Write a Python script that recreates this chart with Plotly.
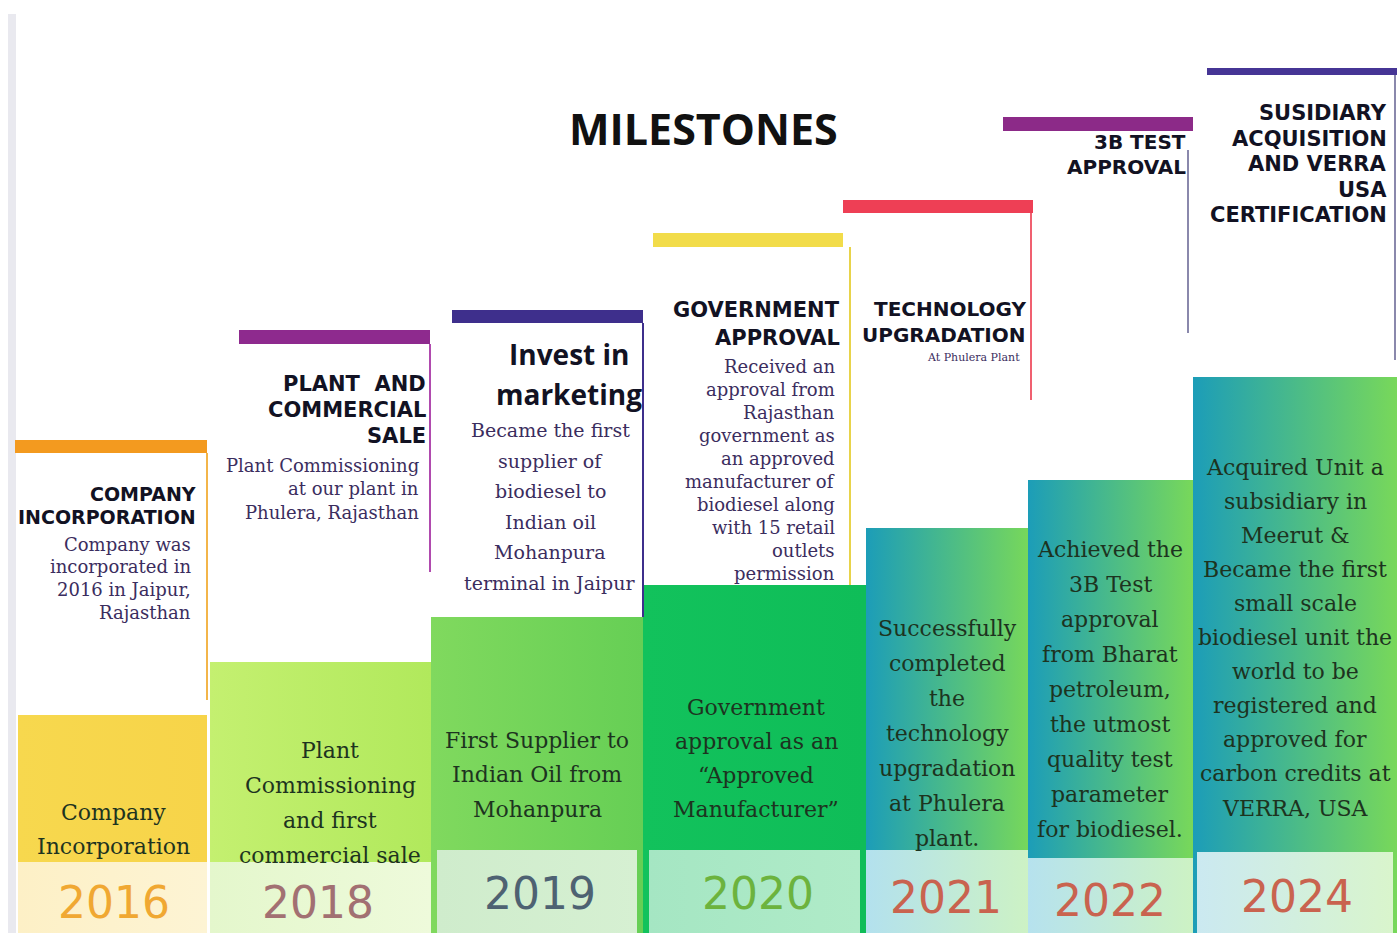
import plotly.graph_objects as go

# ---------------- DATA ----------------
years = ["2016", "2018", "2019", "2020", "2021", "2022", "2024"]

headings = [
    ["COMPANY", "INCORPORATION"],
    ["PLANT  AND", "COMMERCIAL", "SALE"],
    ["Invest in", "marketing"],
    ["GOVERNMENT", "APPROVAL"],
    ["TECHNOLOGY", "UPGRADATION"],
    ["3B TEST", "APPROVAL"],
    ["SUSIDIARY", "ACQUISITION", "AND VERRA", "USA", "CERTIFICATION"],
]

descriptions = [
    ["Company was", "incorporated in", "2016 in Jaipur,", "Rajasthan"],
    ["Plant Commissioning", "at our plant in", "Phulera, Rajasthan"],
    ["Became the first", "supplier of", "biodiesel to", "Indian oil", "Mohanpura", "terminal in Jaipur"],
    ["Received an", "approval from", "Rajasthan", "government as", "an approved",
     "manufacturer of", "biodiesel along", "with 15 retail", "outlets", "permission"],
    ["At Phulera Plant"],
    [],
    [],
]

block_texts = [
    ["Company", "Incorporation"],
    ["Plant", "Commissioning", "and first", "commercial sale"],
    ["First Supplier to", "Indian Oil from", "Mohanpura"],
    ["Government", "approval as an", "\u201cApproved", "Manufacturer\u201d"],
    ["Successfully", "completed", "the", "technology", "upgradation", "at Phulera", "plant."],
    ["Achieved the", "3B Test", "approval", "from Bharat", "petroleum,", "the utmost",
     "quality test", "parameter", "for biodiesel."],
    ["Acquired Unit a", "subsidiary in", "Meerut &", "Became the first", "small scale",
     "biodiesel unit the", "world to be", "registered and", "approved for",
     "carbon credits at", "VERRA, USA"],
]

title = "MILESTONES"

# ---------------- GEOMETRY / STYLE ----------------
W, H = 1400, 933

block_x0 = [18, 210, 431, 643, 866, 1028, 1193]
block_x1 = [207, 431, 643, 866, 1030, 1193, 1397]
block_top = [715, 662, 617, 585, 528, 480, 377]
band_top = [862, 862, 850, 850, 850, 858, 852]
band_inset = [0, 0, 6, 6, 0, 0, 4]
block_colors = [
    ["#f7d84e", "#f7d449"],
    ["#c4f070", "#b1e95c"],
    ["#80d95e", "#66cf55"],
    ["#12c25c", "#0fbd58"],
    ["#1c9db8", "#78d85a"],
    ["#1c9db8", "#78d85a"],
    ["#1c9db8", "#78d85a"],
]
band_colors = [
    ["#fdf0c6", "#fdf4d4"],
    ["#e4f7cc", "#eefadb"],
    ["#cfeccc", "#d6f0d2"],
    ["#a5e6c3", "#b0ebc8"],
    ["#b3e1ee", "#cdf2c4"],
    ["#b6e2ee", "#cdf2c4"],
    ["#cbe9f1", "#d9f5cc"],
]
year_colors = ["#f0a832", "#a27072", "#4e6272", "#6cb33e", "#c9634f", "#c9634f", "#c9634f"]

bar_x0 = [15, 239, 452, 653, 843, 1003, 1207]
bar_x1 = [207, 430, 643, 843, 1033, 1193, 1397]
bar_y0 = [440, 330, 310, 233, 200, 117, 68]
bar_y1 = [453, 344, 323, 247, 213, 131, 75]
bar_colors = ["#f39a1f", "#8e2a8e", "#3e2f8c", "#f2dc4a", "#ee3f55", "#8c2a88", "#463595"]

edge_x = [207, 430, 643, 850, 1031, 1188, 1395]
edge_y0 = [453, 344, 323, 247, 213, 150, 75]
edge_y1 = [700, 572, 617, 585, 400, 333, 360]
edge_colors = ["#f3b54a", "#b04aae", "#3e2f8c", "#e8d34a", "#f06070", "#8a88ac", "#8a88ac"]

head_x = [198, 428, 569, 842, 1028, 1188, 1389]
head_anchor = ["right", "right", "center", "right", "right", "right", "right"]
head_y0 = [494, 384, 354, 310, 309, 142, 113]
head_dy = [23, 26, 40, 28, 26, 25, 25.5]
head_size = [19, 21, 28, 21, 20, 20, 21]
head_font = ["DejaVu Sans", "DejaVu Sans", "Open Sans", "DejaVu Sans", "DejaVu Sans", "DejaVu Sans", "DejaVu Sans"]

desc_x = [193, 421, 550, 837, 1022, 0, 0]
desc_anchor = ["right", "right", "center", "right", "right", "right", "right"]
desc_y0 = [544, 465, 430, 366, 357, 0, 0]
desc_dy = [22.7, 23.5, 30.6, 23, 0, 0, 0]
desc_size = [18, 18, 19, 18, 11, 0, 0]

blk_x = [113, 330, 537, 756, 947, 1110, 1295]
blk_y0 = [812, 750, 740, 707, 628, 549, 467]
blk_dy = [34, 35.3, 34.5, 34.3, 35, 35, 34.1]
blk_size = 22

year_x = [114, 318, 540, 758, 946, 1110, 1297]
year_y = [902, 902, 893, 893, 897, 900, 896]

# ---------------- FIGURE ----------------
fig = go.Figure()


def rect(x0, x1, y0, y1):
    return [x0, x1, x1, x0, x0], [y0, y0, y1, y1, y0]


def grad(c):
    return dict(type="horizontal", colorscale=[[0, c[0]], [1, c[1]]])


# left scan edge
xs, ys = rect(8, 16, 14, H)
fig.add_trace(go.Scatter(x=xs, y=ys, fill="toself", fillcolor="#e9e9ef",
                         line=dict(width=0), mode="lines", hoverinfo="skip"))

for i in range(len(years)):
    # coloured block (runs to the bottom, year band is laid over it)
    xs, ys = rect(block_x0[i], block_x1[i], block_top[i], H)
    fig.add_trace(go.Scatter(x=xs, y=ys, fill="toself", mode="lines", line=dict(width=0),
                             hoverinfo="skip", fillgradient=grad(block_colors[i])))
    ins = band_inset[i]
    xs, ys = rect(block_x0[i] + ins, block_x1[i] - ins, band_top[i], H)
    fig.add_trace(go.Scatter(x=xs, y=ys, fill="toself", mode="lines", line=dict(width=0),
                             hoverinfo="skip", fillgradient=grad(band_colors[i])))

shapes = []
for i in range(len(years)):
    shapes.append(dict(type="rect", xref="x", yref="y", x0=bar_x0[i], x1=bar_x1[i],
                       y0=bar_y0[i], y1=bar_y1[i], fillcolor=bar_colors[i], line=dict(width=0)))
    shapes.append(dict(type="line", xref="x", yref="y", x0=edge_x[i], x1=edge_x[i],
                       y0=edge_y0[i], y1=edge_y1[i], line=dict(color=edge_colors[i], width=2)))

ann = []
ann.append(dict(x=703, y=128, xref="x", yref="y", text="<b>" + title + "</b>", showarrow=False,
                xanchor="center", yanchor="middle",
                font=dict(family="Open Sans", size=43, color="#111111")))

for i in range(len(years)):
    for j, line in enumerate(headings[i]):
        ann.append(dict(x=head_x[i], y=head_y0[i] + j * head_dy[i], xref="x", yref="y",
                        text="<b>" + line + "</b>", showarrow=False,
                        xanchor=head_anchor[i], yanchor="middle",
                        font=dict(family=head_font[i], size=head_size[i], color="#121223")))
    for j, line in enumerate(descriptions[i]):
        ann.append(dict(x=desc_x[i], y=desc_y0[i] + j * desc_dy[i], xref="x", yref="y",
                        text=line, showarrow=False, xanchor=desc_anchor[i], yanchor="middle",
                        font=dict(family="DejaVu Serif", size=desc_size[i], color="#3b2d5e")))
    for j, line in enumerate(block_texts[i]):
        ann.append(dict(x=blk_x[i], y=blk_y0[i] + j * blk_dy[i], xref="x", yref="y",
                        text=line, showarrow=False, xanchor="center", yanchor="middle",
                        font=dict(family="DejaVu Serif", size=blk_size, color="#1d3320")))
    ann.append(dict(x=year_x[i], y=year_y[i], xref="x", yref="y", text=years[i],
                    showarrow=False, xanchor="center", yanchor="middle",
                    font=dict(family="DejaVu Sans", size=44, color=year_colors[i])))

fig.update_layout(
    width=W, height=H, margin=dict(l=0, r=0, t=0, b=0),
    paper_bgcolor="white", plot_bgcolor="white", showlegend=False,
    shapes=shapes, annotations=ann,
)
fig.update_xaxes(range=[0, W], visible=False, fixedrange=True)
fig.update_yaxes(range=[H, 0], visible=False, fixedrange=True)

fig.write_html("out.html", config={"displayModeBar": False},
               post_script="document.body.style.margin='0';")
